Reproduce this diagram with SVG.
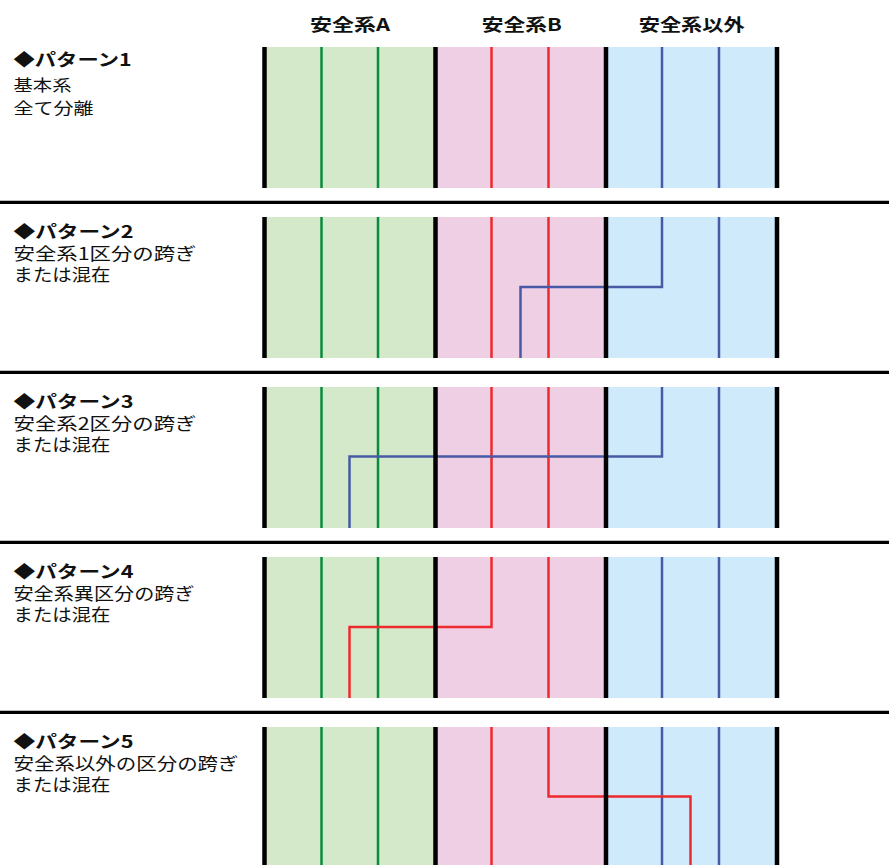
<svg xmlns="http://www.w3.org/2000/svg" width="889" height="865" viewBox="0 0 889 865">
<style>
.t{font-family:"Noto Sans CJK JP","Liberation Sans",sans-serif;fill:#111}
.h{font-size:17px;font-weight:bold}
.ti{font-size:17px;font-weight:bold}
.s1{font-size:16px}
.s{font-size:17.5px}
.fa{fill:#d3e9c9}.fb{fill:#efcfe4}.fc{fill:#cfeafb}
.g{stroke:#0b8a3e;stroke-width:2.5;fill:none}
.r{stroke:#ee2a2e;stroke-width:2.5;fill:none}
.b{stroke:#4859a6;stroke-width:2.5;fill:none}
.k{stroke:#000;stroke-width:4.5}
.sep{stroke:#000;stroke-width:3.3}
</style>
<rect width="889" height="865" fill="#fff"/>
<g id="headers">
<text class="t h" x="350" y="31" text-anchor="middle" textLength="80" lengthAdjust="spacingAndGlyphs">安全系A</text>
<text class="t h" x="521.7" y="31" text-anchor="middle" textLength="80" lengthAdjust="spacingAndGlyphs">安全系B</text>
<text class="t h" x="691.7" y="31" text-anchor="middle" textLength="106" lengthAdjust="spacingAndGlyphs">安全系以外</text>
</g>
<g id="row1">
<rect class="fa" x="264" y="47" width="171" height="141"/><rect class="fb" x="435" y="47" width="171" height="141"/><rect class="fc" x="606" y="47" width="171" height="141"/>
<path class="g" d="M321.5,47V188M378,47V188"/><path class="r" d="M491.5,47V188M548.5,47V188"/><path class="b" d="M662,47V188M719,47V188"/>
<text class="t ti" x="13.5" y="66" textLength="118" lengthAdjust="spacingAndGlyphs">◆パターン1</text>
<text class="t s1" x="13.5" y="90.5" textLength="58" lengthAdjust="spacingAndGlyphs">基本系</text>
<text class="t s1" x="13.5" y="113.5" textLength="80" lengthAdjust="spacingAndGlyphs">全て分離</text>
</g>
<g id="row2">
<rect class="fa" x="264" y="217" width="171" height="141"/><rect class="fb" x="435" y="217" width="171" height="141"/><rect class="fc" x="606" y="217" width="171" height="141"/>
<path class="g" d="M321.5,217V358M378,217V358"/><path class="r" d="M491.5,217V358M548.5,217V358"/><path class="b" d="M719,217V358"/>
<text class="t ti" x="13.5" y="237.5" textLength="120" lengthAdjust="spacingAndGlyphs">◆パターン2</text>
<text class="t s" x="13.5" y="259.5" textLength="183" lengthAdjust="spacingAndGlyphs">安全系1区分の跨ぎ</text>
<text class="t s" x="13.5" y="280.5" textLength="97" lengthAdjust="spacingAndGlyphs">または混在</text>
</g>
<g id="row3">
<rect class="fa" x="264" y="387" width="171" height="141"/><rect class="fb" x="435" y="387" width="171" height="141"/><rect class="fc" x="606" y="387" width="171" height="141"/>
<path class="g" d="M321.5,387V528M378,387V528"/><path class="r" d="M491.5,387V528M548.5,387V528"/><path class="b" d="M719,387V528"/>
<text class="t ti" x="13.5" y="407.5" textLength="120" lengthAdjust="spacingAndGlyphs">◆パターン3</text>
<text class="t s" x="13.5" y="429.5" textLength="183" lengthAdjust="spacingAndGlyphs">安全系2区分の跨ぎ</text>
<text class="t s" x="13.5" y="450.5" textLength="97" lengthAdjust="spacingAndGlyphs">または混在</text>
</g>
<g id="row4">
<rect class="fa" x="264" y="557" width="171" height="141"/><rect class="fb" x="435" y="557" width="171" height="141"/><rect class="fc" x="606" y="557" width="171" height="141"/>
<path class="g" d="M321.5,557V698M378,557V698"/><path class="r" d="M548.5,557V698"/><path class="b" d="M662,557V698M719,557V698"/>
<text class="t ti" x="13.5" y="577.5" textLength="120" lengthAdjust="spacingAndGlyphs">◆パターン4</text>
<text class="t s" x="13.5" y="599.5" textLength="181" lengthAdjust="spacingAndGlyphs">安全系異区分の跨ぎ</text>
<text class="t s" x="13.5" y="620.5" textLength="97" lengthAdjust="spacingAndGlyphs">または混在</text>
</g>
<g id="row5">
<rect class="fa" x="264" y="727" width="171" height="141"/><rect class="fb" x="435" y="727" width="171" height="141"/><rect class="fc" x="606" y="727" width="171" height="141"/>
<path class="g" d="M321.5,727V868M378,727V868"/><path class="r" d="M491.5,727V868"/><path class="b" d="M662,727V868M719,727V868"/>
<text class="t ti" x="13.5" y="747.5" textLength="120" lengthAdjust="spacingAndGlyphs">◆パターン5</text>
<text class="t s" x="13.5" y="769.5" textLength="225" lengthAdjust="spacingAndGlyphs">安全系以外の区分の跨ぎ</text>
<text class="t s" x="13.5" y="790.5" textLength="97" lengthAdjust="spacingAndGlyphs">または混在</text>
</g>
<g id="connectors">
<path class="b" d="M662,217V287H520.5V358"/>
<path class="b" d="M662,387V456.5H349.5V528"/>
<path class="r" d="M491.5,557V627H349.5V698"/>
<path class="r" d="M548.5,727V796.5H690.5V868"/>
</g>
<g id="dividers">
<path class="k" d="M264.5,47V188M435.5,47V188M606,47V188M777,47V188"/>
<path class="k" d="M264.5,217V358M435.5,217V358M606,217V358M777,217V358"/>
<path class="k" d="M264.5,387V528M435.5,387V528M606,387V528M777,387V528"/>
<path class="k" d="M264.5,557V698M435.5,557V698M606,557V698M777,557V698"/>
<path class="k" d="M264.5,727V868M435.5,727V868M606,727V868M777,727V868"/>
<path class="sep" d="M0,202.3H889M0,372.3H889M0,542.3H889M0,712.3H889"/>
</g>
</svg>
